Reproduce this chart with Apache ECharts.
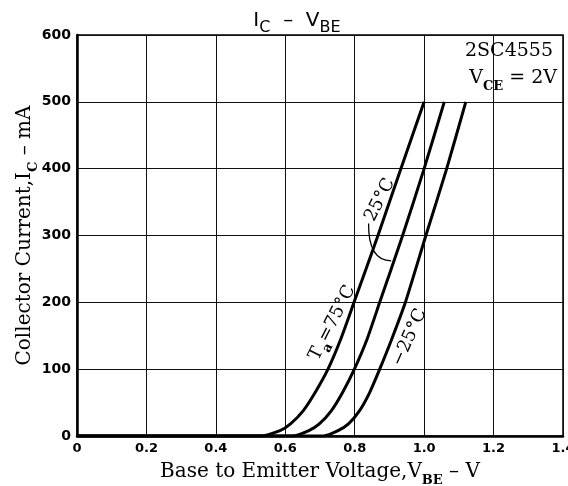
<!DOCTYPE html>
<html>
<head>
<meta charset="utf-8">
<script src="https://cdn.jsdelivr.net/npm/echarts@6/dist/echarts.min.js"></script>
<style>html,body{margin:0;padding:0;background:#fff}#c{width:568px;height:486px}</style>
</head>
<body>
<div id="c"></div>
<script>
// Ta = 75°C
const vbe75 = [0, 0.53, 0.585, 0.615, 0.652, 0.686, 0.723, 0.759, 0.798, 0.867, 0.933, 1.0];
const ic75  = [0, 0,    8,     18,    38,    65,    100,   144,   200,   300,   400,   500];
// Ta = 25°C
const vbe25 = [0, 0.62, 0.668, 0.698, 0.733, 0.765, 0.799, 0.835, 0.872, 0.938, 1.0, 1.058];
const ic25  = [0, 0,    8,     18,    38,    65,    100,   144,   200,   300,   400, 500];
// Ta = -25°C
const vbeM25 = [0, 0.71, 0.752, 0.782, 0.814, 0.843, 0.872, 0.906, 0.946, 1.005, 1.065, 1.12];
const icM25  = [0, 0,    8,     18,    38,    65,    100,   144,   200,   300,   400,   500];

const xTicks = [0, 0.2, 0.4, 0.6, 0.8, 1.0, 1.2, 1.4];
const yTicks = [0, 100, 200, 300, 400, 500, 600];

const pair = (xs, ys) => xs.map((x, i) => [x, ys[i]]);

const chart = echarts.init(document.getElementById('c'));
const serif = 'DejaVu Serif';
const lineSeries = (name, xs, ys) => ({
  name, type: 'line', data: pair(xs, ys), smooth: 0.2, symbol: 'none',
  lineStyle: { color: '#000', width: 3, join: 'round' }, z: 5
});
const richAxis = {
  n: { fontFamily: serif, fontSize: 20, color: '#000', lineHeight: 24, verticalAlign: 'bottom' },
  s: { fontFamily: serif, fontSize: 13, color: '#000', fontWeight: 'bold', lineHeight: 24, verticalAlign: 'bottom', padding: [0, 0, -5, 0] }
};

chart.setOption({
  animation: false,
  backgroundColor: '#fff',
  title: {
    text: '{m|I}{s|C}{m|  –  V}{s|BE}',
    left: 292, top: 2, textAlign: 'center',
    textStyle: {
      fontWeight: 'normal',
      rich: {
        m: { fontFamily: 'DejaVu Sans', fontSize: 20, fontWeight: 'normal', color: '#000', lineHeight: 24, verticalAlign: 'bottom' },
        s: { fontFamily: 'DejaVu Sans', fontSize: 16, fontWeight: 'normal', color: '#000', lineHeight: 24, verticalAlign: 'bottom', padding: [0, 0, -5, 0] }
      }
    }
  },
  grid: { left: 77, right: 5, top: 35, bottom: 50, show: true, borderColor: '#000', borderWidth: 1.5, outerBoundsMode: 'none', containLabel: false },
  xAxis: {
    type: 'value', min: xTicks[0], max: xTicks[xTicks.length - 1], interval: 0.2,
    axisLine: { show: true, lineStyle: { color: '#000', width: 2.5 } },
    axisTick: { show: false },
    splitLine: { show: true, lineStyle: { color: '#111', width: 1 } },
    axisLabel: { color: '#000', fontFamily: 'DejaVu Sans', fontWeight: 'bold', fontSize: 13, margin: 6,
      formatter: v => v === 0 ? '0' : v.toFixed(1) },
    name: '{n|Base to Emitter Voltage,V}{s|BE}{n| – V}',
    nameLocation: 'middle', nameGap: 22, nameMoveOverlap: false,
    nameTextStyle: { rich: richAxis }
  },
  yAxis: {
    type: 'value', min: yTicks[0], max: yTicks[yTicks.length - 1], interval: 100,
    axisLine: { show: true, lineStyle: { color: '#000', width: 2.5 } },
    axisTick: { show: false },
    splitLine: { show: true, lineStyle: { color: '#111', width: 1 } },
    axisLabel: { color: '#000', fontFamily: 'DejaVu Sans', fontWeight: 'bold', fontSize: 14, margin: 6 },
    name: '{n|Collector Current,I}{s|C}{n| – mA}',
    nameLocation: 'middle', nameGap: 42, nameRotate: 90, nameMoveOverlap: false,
    nameTextStyle: { rich: richAxis }
  },
  series: [
    lineSeries('75', vbe75, ic75),
    lineSeries('25', vbe25, ic25),
    lineSeries('-25', vbeM25, icM25)
  ]
});

// annotations placed through data coordinates
const P = (v, i) => chart.convertToPixel({ gridIndex: 0 }, [v, i]);
const rot = a => a * Math.PI / 180;
const lab = (pt, text, angle, rich) => ({
  type: 'text', x: pt[0], y: pt[1], rotation: rot(angle), z: 10,
  style: { text, align: 'center', verticalAlign: 'middle', rich }
});
const richCurve = {
  n: { fontFamily: serif, fontSize: 18, color: '#000', lineHeight: 20, verticalAlign: 'bottom' },
  s: { fontFamily: serif, fontSize: 13, color: '#000', fontWeight: 'bold', lineHeight: 20, verticalAlign: 'bottom', padding: [0, 0, -5, 0] }
};
const pA = P(0.733, 170);
const p25 = P(0.87, 354);
const pM = P(0.955, 148);
const l0 = P(0.84, 318), l1 = P(0.85, 278), l2 = P(0.905, 262);
const tr = P(1.4, 600);
chart.setOption({
  graphic: [
    lab(pA, '{n|T}{s|a}{n|=75°C}', 63, richCurve),
    lab(p25, '{n|25°C}', 63, richCurve),
    lab(pM, '{n|−25°C}', 66, richCurve),
    { type: 'bezierCurve', z: 10, shape: { x1: l0[0], y1: l0[1], cpx1: l1[0] - 4, cpy1: l1[1] + 10, x2: l2[0], y2: l2[1] },
      style: { stroke: '#000', lineWidth: 1.3, fill: null } },
    { type: 'text', x: tr[0] - 10, y: tr[1] + 7, z: 10,
      style: { text: '2SC4555', align: 'right', verticalAlign: 'top', fontFamily: serif, fontSize: 19, fill: '#000' } },
    { type: 'text', x: tr[0] - 6, y: tr[1] + 31, z: 10,
      style: { text: '{n|V}{s|CE}{n| = 2V}', align: 'right', verticalAlign: 'top',
        rich: {
          n: { fontFamily: serif, fontSize: 19, color: '#000', lineHeight: 22, verticalAlign: 'bottom' },
          s: { fontFamily: serif, fontSize: 13, color: '#000', fontWeight: 'bold', lineHeight: 22, verticalAlign: 'bottom', padding: [0, 0, -5, 0] }
        } } }
  ]
});
</script>
</body>
</html>
